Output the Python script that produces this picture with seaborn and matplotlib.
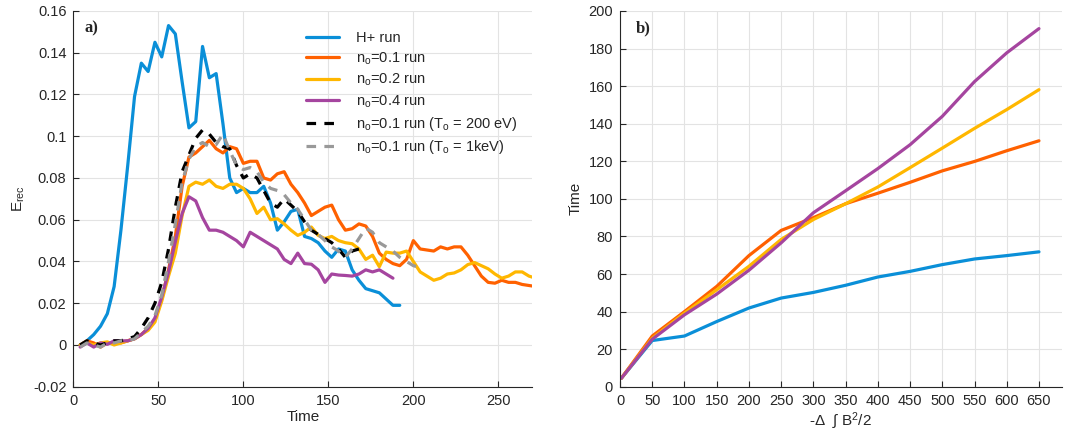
import numpy as np
import pandas as pd
import seaborn as sns
import matplotlib.pyplot as plt
from matplotlib.ticker import FuncFormatter

# ---- panel a) : reconnection rate vs time ----
runs = ["H+ run", r"n$_\mathrm{o}$=0.1 run", r"n$_\mathrm{o}$=0.2 run", r"n$_\mathrm{o}$=0.4 run",
        r"n$_\mathrm{o}$=0.1 run (T$_\mathrm{o}$ = 200 eV)", r"n$_\mathrm{o}$=0.1 run (T$_\mathrm{o}$ = 1keV)"]
colores = ["#0a8fd8", "#ff6100", "#ffb700", "#a5459f", "#000000", "#999999"]

t_h = list(range(4, 193, 4))
e_h = [0.000, 0.002, 0.005, 0.009, 0.015, 0.028, 0.055, 0.086, 0.119, 0.135,
       0.131, 0.145, 0.138, 0.153, 0.149, 0.126, 0.104, 0.107, 0.143, 0.128,
       0.130, 0.106, 0.080, 0.073, 0.075, 0.073, 0.073, 0.076, 0.068, 0.055,
       0.059, 0.064, 0.065, 0.052, 0.051, 0.049, 0.045, 0.042, 0.046, 0.045,
       0.036, 0.031, 0.027, 0.026, 0.025, 0.022, 0.019, 0.019]

t_o1 = list(range(4, 273, 4))
e_o1 = [0.000, 0.002, 0.001, -0.001, 0.001, 0.001, 0.001, 0.002, 0.003, 0.005,
        0.008, 0.012, 0.022, 0.036, 0.052, 0.076, 0.090, 0.092, 0.095, 0.098,
        0.094, 0.092, 0.095, 0.094, 0.087, 0.088, 0.088, 0.080, 0.079, 0.082,
        0.083, 0.077, 0.073, 0.068, 0.062, 0.064, 0.066, 0.067, 0.060, 0.055,
        0.0557, 0.058, 0.057, 0.052, 0.044, 0.041, 0.039, 0.038, 0.041, 0.050,
        0.046, 0.0455, 0.045, 0.047, 0.046, 0.047, 0.047, 0.043, 0.038, 0.033,
        0.030, 0.0296, 0.031, 0.030, 0.030, 0.029, 0.0285, 0.028]

t_o2 = list(range(4, 273, 4))
e_o2 = [0.000, 0.001, 0.000, 0.001, 0.0015, 0.000, 0.001, 0.002, 0.003, 0.005,
        0.007, 0.011, 0.021, 0.033, 0.044, 0.062, 0.076, 0.078, 0.077, 0.079,
        0.076, 0.075, 0.077, 0.077, 0.075, 0.070, 0.063, 0.066, 0.060, 0.0605,
        0.058, 0.055, 0.0525, 0.054, 0.0565, 0.0525, 0.051, 0.052, 0.050, 0.049,
        0.0485, 0.046, 0.041, 0.043, 0.0375, 0.0445, 0.044, 0.044, 0.045, 0.040,
        0.035, 0.033, 0.031, 0.032, 0.034, 0.0345, 0.036, 0.0385, 0.0395, 0.038,
        0.0365, 0.034, 0.032, 0.033, 0.035, 0.035, 0.033, 0.032]

t_o4 = list(range(4, 189, 4))
e_o4 = [-0.001, 0.001, -0.001, 0.001, 0.0003, 0.002, 0.002, 0.002, 0.003, 0.005,
        0.008, 0.013, 0.023, 0.035, 0.0495, 0.063, 0.071, 0.069, 0.061, 0.055,
        0.055, 0.054, 0.052, 0.050, 0.047, 0.054, 0.052, 0.050, 0.048, 0.046,
        0.041, 0.039, 0.044, 0.039, 0.0387, 0.036, 0.030, 0.034, 0.0335, 0.0333,
        0.033, 0.034, 0.036, 0.035, 0.036, 0.034, 0.032]

t_200 = list(range(4, 169, 4))
e_200 = [0.000, 0.002, 0.001, 0.000, 0.001, 0.002, 0.002, 0.003, 0.004, 0.008,
         0.013, 0.020, 0.030, 0.046, 0.066, 0.083, 0.091, 0.099, 0.103, 0.101,
         0.097, 0.095, 0.094, 0.086, 0.080, 0.082, 0.080, 0.074, 0.068, 0.066,
         0.070, 0.067, 0.064, 0.059, 0.055, 0.053, 0.051, 0.049, 0.046, 0.042,
         0.045, 0.046]

t_1k = list(range(4, 205, 4))
e_1k = [-0.001, 0.001, 0.000, -0.001, 0.001, 0.001, 0.002, 0.002, 0.003, 0.006,
        0.009, 0.014, 0.024, 0.040, 0.058, 0.078, 0.089, 0.095, 0.097, 0.095,
        0.096, 0.101, 0.093, 0.086, 0.084, 0.085, 0.083, 0.078, 0.075, 0.074,
        0.072, 0.068, 0.065, 0.060, 0.055, 0.053, 0.050, 0.047, 0.045, 0.042,
        0.046, 0.051, 0.056, 0.054, 0.049, 0.047, 0.045, 0.042, 0.040, 0.038,
        0.037]

# ---- panel b) : time vs released magnetic energy ----
energia = [2, 50, 100, 150, 200, 250, 300, 350, 400, 450, 500, 550, 600, 650]
tiempo_h = [4.5, 24.6, 27.0, 34.7, 41.9, 47.2, 50.2, 54.0, 58.4, 61.4, 65.0, 68.0, 69.8, 71.8]
tiempo_o1 = [4.5, 27.0, 40.0, 53.4, 69.8, 83.2, 90.0, 97.4, 103.0, 108.8, 114.9, 119.9, 125.6, 130.9]
tiempo_o2 = [4.5, 25.8, 39.2, 51.6, 64.1, 78.4, 89.0, 97.4, 106.3, 116.6, 127.0, 137.5, 147.5, 158.1]
tiempo_o4 = [4.5, 25.3, 38.3, 49.3, 62.0, 76.6, 92.6, 104.3, 116.1, 128.8, 143.9, 162.4, 177.7, 190.6]

sns.set_theme(style="whitegrid")
plt.rcParams["font.family"] = ["Liberation Sans", "DejaVu Sans"]
plt.rcParams["mathtext.fontset"] = "custom"
plt.rcParams["mathtext.rm"] = "Liberation Sans"
plt.rcParams["mathtext.it"] = "Liberation Sans:italic"
plt.rcParams["mathtext.bf"] = "Liberation Sans:bold"

series = [(t_h, e_h), (t_o1, e_o1), (t_o2, e_o2), (t_o4, e_o4), (t_200, e_200), (t_1k, e_1k)]
filas = []
for nombre, (t, e) in zip(runs, series):
    for ti, ei in zip(t, e):
        filas.append((nombre, ti, ei))
df_a = pd.DataFrame(filas, columns=["run", "Time", "Erec"])

filas = []
for nombre, tt in zip(runs[:4], [tiempo_h, tiempo_o1, tiempo_o2, tiempo_o4]):
    for x, y in zip(energia, tt):
        filas.append((nombre, x, y))
df_b = pd.DataFrame(filas, columns=["run", "energia", "Time"])

paleta = dict(zip(runs, colores))
guiones = {r: "" for r in runs[:4]}
guiones[runs[4]] = (3, 2.6)
guiones[runs[5]] = (3, 2.6)

fig = plt.figure(figsize=(10.69, 4.38), dpi=100)
ax1 = fig.add_axes([0.0686, 0.117, 0.4294, 0.858])
ax2 = fig.add_axes([0.58, 0.117, 0.413, 0.858])

sns.lineplot(data=df_a, x="Time", y="Erec", hue="run", style="run", hue_order=runs, style_order=runs,
             palette=paleta, dashes=guiones, linewidth=2.3, errorbar=None, sort=False, ax=ax1)
sns.lineplot(data=df_b, x="energia", y="Time", hue="run", hue_order=runs[:4],
             palette=paleta, linewidth=2.3, errorbar=None, sort=False, legend=False, ax=ax2)

fmt = FuncFormatter(lambda v, p: f"{v:g}")
for ax in (ax1, ax2):
    ax.set_facecolor("white")
    ax.grid(True, color="#e3e3e3", linewidth=0.8)
    for lado in ("top", "right"):
        ax.spines[lado].set_visible(False)
    for lado in ("left", "bottom"):
        ax.spines[lado].set_color("#262626")
        ax.spines[lado].set_linewidth(0.8)
    ax.tick_params(direction="in", length=4, width=0.8, colors="#262626", labelsize=10.5,
                   left=True, bottom=True, pad=5)

ax1.set_xlim(0, 270)
ax1.set_ylim(-0.02, 0.16)
ax1.set_xticks(range(0, 251, 50))
ax1.set_yticks(np.arange(-0.02, 0.161, 0.02))
ax1.yaxis.set_major_formatter(fmt)
ax1.set_xlabel("Time", fontsize=11, labelpad=2)
ax1.set_ylabel(r"E$_\mathrm{rec}$", fontsize=11, labelpad=4)
ax1.text(0.025, 0.975, "a)", transform=ax1.transAxes, family="Liberation Serif",
         fontweight="bold", fontsize=12, va="top")
ax1.legend(loc="upper left", bbox_to_anchor=(0.494, 0.962), frameon=False, fontsize=10.5,
           handlelength=2.3, labelspacing=0.35, handletextpad=1.1, borderaxespad=0)

ax2.set_xlim(0, 685)
ax2.set_ylim(0, 200)
ax2.set_xticks(range(0, 651, 50))
ax2.set_yticks(range(0, 201, 20))
ax2.set_xlabel("-Δ  ∫ B$^2$/2", fontsize=11, labelpad=2)
ax2.set_ylabel("Time", fontsize=11, labelpad=4)
ax2.text(0.036, 0.975, "b)", transform=ax2.transAxes, family="Liberation Serif",
         fontweight="bold", fontsize=12, va="top")

fig.savefig("out.png", dpi=100)
